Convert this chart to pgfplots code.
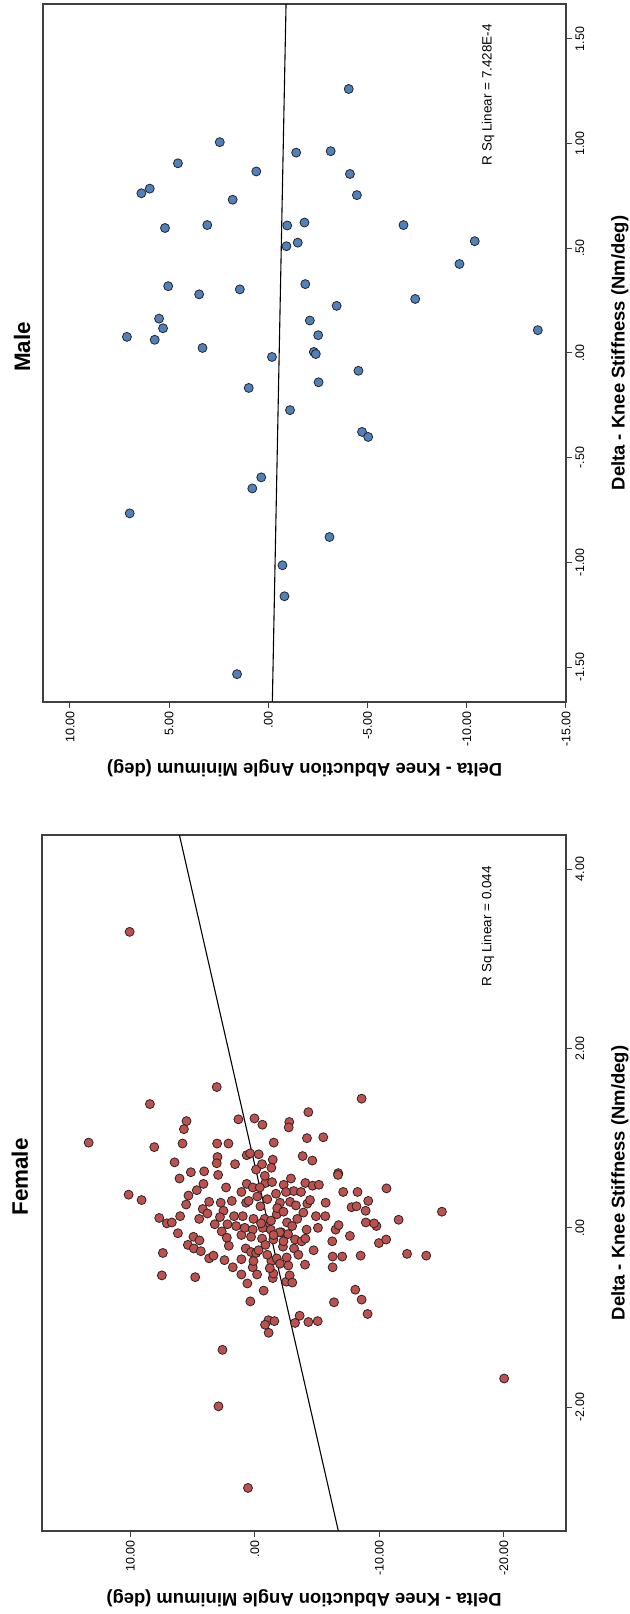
\documentclass[border=0pt]{standalone}
\usepackage{fontspec}
\setmainfont{Liberation Sans}
\usepackage{pgfplots}
\pgfplotsset{compat=1.18}
\definecolor{fem}{RGB}{192,80,77}
\definecolor{mal}{RGB}{79,129,189}
\definecolor{axc}{RGB}{64,64,64}
\pgfplotsset{spss/.style={
  scale only axis, x dir=reverse,
  axis line style={axc, line width=1.2bp},
  tick style={axc, line width=1bp},
  major tick length=6bp, tick align=outside,
  xtick pos=left, ytick pos=right, yticklabel pos=right,
  ticklabel style={font=\fontsize{12.5}{14}\selectfont},
  xticklabel style={rotate=90, anchor=east},
  yticklabel style={rotate=90, anchor=north},
  label style={font=\bfseries\fontsize{18.5}{22}\selectfont},
  xlabel style={rotate=180, anchor=center},
  ylabel style={anchor=center},
  title style={font=\bfseries\fontsize{22.5}{26}\selectfont, rotate=90, anchor=center},
  clip=true,
}}

\pgfplotstableread{
a s
3.06 1.57
8.43 1.38
-8.58 1.44
-4.30 1.29
1.32 1.21
0.03 1.22
-0.61 1.15
-2.77 1.18
-2.72 1.12
5.49 1.19
5.70 1.10
13.35 0.95
8.08 0.90
5.81 0.94
3.03 0.94
2.12 0.94
-1.52 0.95
-4.19 1.00
-5.50 1.01
0.65 0.81
0.38 0.83
-0.31 0.82
3.00 0.79
3.06 0.72
1.59 0.71
-0.10 0.65
-0.58 0.71
-1.44 0.76
-1.33 0.67
-3.84 0.80
-4.62 0.75
6.45 0.73
5.14 0.62
4.07 0.63
2.95 0.59
6.05 0.55
-6.70 0.61
-6.68 0.59
10.14 0.37
9.10 0.31
5.33 0.36
4.66 0.42
4.13 0.49
2.31 0.45
1.08 0.40
0.65 0.49
0.17 0.45
-0.85 0.50
-1.38 0.51
-2.32 0.48
-3.12 0.41
-3.71 0.40
-4.06 0.50
-4.64 0.47
-5.15 0.48
-7.10 0.40
-8.25 0.40
-9.11 0.30
-7.77 0.23
-8.17 0.24
-8.90 0.19
-8.92 0.06
-5.69 0.28
5.52 0.26
3.67 0.29
2.74 0.28
1.85 0.30
0.70 0.28
-0.45 0.24
-2.02 0.28
-2.83 0.29
-4.22 0.27
-4.43 0.31
7.68 0.11
7.07 0.05
6.67 0.06
6.00 0.13
4.47 0.10
4.18 0.21
3.81 0.16
3.22 0.04
2.52 0.19
2.20 0.04
1.67 0.13
0.97 0.13
0.11 0.10
-0.79 0.10
-0.95 0.01
-1.76 0.15
-2.59 0.06
-3.41 0.10
-3.90 0.17
-4.16 -0.02
-4.91 0.13
-5.07 0.00
-5.66 0.13
-6.49 -0.02
-6.73 0.03
6.18 -0.06
5.38 -0.19
4.93 -0.10
4.45 -0.14
4.90 -0.23
4.34 -0.26
3.67 -0.34
3.32 -0.31
2.66 -0.04
2.25 -0.11
2.09 -0.20
1.08 -0.08
0.81 0.00
0.17 -0.02
-0.63 0.00
-1.28 -0.02
-0.58 -0.12
-0.85 -0.19
-1.49 -0.13
-2.13 -0.05
-2.26 -0.21
-2.67 -0.07
-3.23 -0.13
-3.76 -0.15
-3.15 -0.23
-4.06 -0.12
-4.72 -0.25
-6.22 -0.15
-7.64 -0.09
7.39 -0.28
2.44 -0.36
1.77 -0.44
1.08 -0.35
1.08 -0.52
0.73 -0.23
0.30 -0.27
-0.10 -0.28
0.17 -0.44
-0.18 -0.52
0.11 -0.37
-1.33 -0.37
-1.76 -0.34
-2.02 -0.40
-2.56 -0.33
-2.69 -0.42
-4.03 -0.41
-6.25 -0.32
-7.02 -0.32
-8.50 -0.31
-6.25 -0.44
7.47 -0.53
4.79 -0.55
-1.44 -0.56
-1.49 -0.51
-2.53 -0.60
-2.80 -0.53
-3.01 -0.61
-0.71 -0.70
0.36 -0.82
-6.36 -0.83
-8.07 -0.69
-8.58 -0.80
-9.06 -0.96
-1.09 -1.03
-1.57 -1.04
-0.82 -1.08
-1.11 -1.17
-3.23 -1.06
-3.60 -0.98
-4.30 -1.05
-5.05 -1.04
2.60 -1.36
2.92 -1.99
10.06 3.30
-15.03 0.18
-13.77 -0.31
-12.23 -0.29
-11.55 0.09
-10.58 0.44
-9.97 -0.17
-10.55 -0.13
-9.77 0.02
-9.58 0.05
0.55 -2.90
-20.03 -1.68
0.50 0.30
-0.20 0.35
-1.00 0.32
-1.80 0.22
-2.30 0.18
-0.50 0.05
-1.30 0.08
-2.00 -0.05
-3.00 0.02
0.30 -0.10
-0.30 -0.25
-1.00 -0.30
-2.30 -0.15
-1.70 0.38
-0.80 0.58
-2.50 0.40
1.50 0.02
2.80 0.12
-3.50 -0.30
-1.20 -0.45
0.60 -0.62
-0.40 0.45
-2.90 0.55
-3.30 0.25
-1.50 -0.08
}\female

\pgfplotstableread{
a s
-4.05 1.261
2.45 1.007
-1.40 0.957
-3.14 0.964
4.56 0.906
0.61 0.867
-4.11 0.855
5.98 0.785
6.40 0.763
-4.46 0.754
1.80 0.732
5.21 0.597
3.08 0.611
-0.95 0.609
-1.82 0.623
-6.81 0.611
-0.91 0.510
-1.48 0.527
-10.40 0.534
-9.63 0.425
5.05 0.319
3.49 0.280
1.44 0.304
-1.86 0.329
-7.40 0.258
-3.44 0.225
5.51 0.164
-2.09 0.155
5.31 0.118
7.13 0.077
5.73 0.063
-2.51 0.085
-13.58 0.109
3.32 0.024
-2.29 0.005
-2.39 -0.005
-0.18 -0.019
-4.54 -0.085
0.99 -0.167
-2.53 -0.140
-1.09 -0.273
-4.72 -0.377
-5.03 -0.401
0.36 -0.594
0.81 -0.647
6.99 -0.766
-3.08 -0.879
-0.71 -1.014
-0.81 -1.162
1.58 -1.534
}\male

\begin{document}
\begin{tikzpicture}
\path[use as bounding box] (0,0) rectangle (630bp,1614bp);

% Female panel
\begin{axis}[spss,
  at={(42bp,83bp)}, anchor=south west,
  width=524bp, height=696bp,
  xmin=-25, xmax=17.1, ymin=-3.38, ymax=4.38,
  xtick={-20,-10,0,10}, xticklabels={-20.00,-10.00,.00,10.00},
  ytick={-2,0,2,4}, yticklabels={-2.00,.00,2.00,4.00},
  xlabel={Delta - Knee Abduction Angle Minimum (deg)},
  ylabel={Delta - Knee Stiffness (Nm/deg)},
  xlabel style={at={(axis description cs:0.5,-0.0963)}},
  ylabel style={at={(axis description cs:1.103,0.5)}},
  title={Female},
  title style={at={(axis description cs:-0.042,0.5)}},
]
\addplot[only marks, mark=*, mark size=4.5bp,
  mark options={fill=fem, draw=black!85, line width=0.8bp}] table[x=a, y=s] {\female};
\addplot[black, line width=1.1bp] coordinates {(-6.71,-3.38) (6.06,4.38)};
\node[rotate=90, font=\fontsize{13.5}{15}\selectfont, anchor=center]
  at (axis description cs:0.851,0.869) {R Sq Linear = 0.044};
\end{axis}

% Male panel
\begin{axis}[spss,
  at={(43bp,912bp)}, anchor=south west,
  width=523bp, height=698bp,
  xmin=-15, xmax=11.36, ymin=-1.667, ymax=1.667,
  xtick={-15,-10,-5,0,5,10}, xticklabels={-15.00,-10.00,-5.00,.00,5.00,10.00},
  ytick={-1.5,-1,-0.5,0,0.5,1,1.5}, yticklabels={-1.50,-1.00,-.50,.00,.50,1.00,1.50},
  xlabel={Delta - Knee Abduction Angle Minimum (deg)},
  ylabel={Delta - Knee Stiffness (Nm/deg)},
  xlabel style={at={(axis description cs:0.5,-0.095)}},
  ylabel style={at={(axis description cs:1.103,0.5)}},
  title={Male},
  title style={at={(axis description cs:-0.040,0.5)}},
]
\addplot[only marks, mark=*, mark size=4.5bp,
  mark options={fill=mal, draw=black!85, line width=0.8bp}] table[x=a, y=s] {\male};
\addplot[black, line width=1.1bp] coordinates {(-0.20,-1.667) (-0.89,1.667)};
\node[rotate=90, font=\fontsize{13.5}{15}\selectfont, anchor=center]
  at (axis description cs:0.851,0.870) {R Sq Linear = 7.428E-4};
\end{axis}
\end{tikzpicture}
\end{document}
